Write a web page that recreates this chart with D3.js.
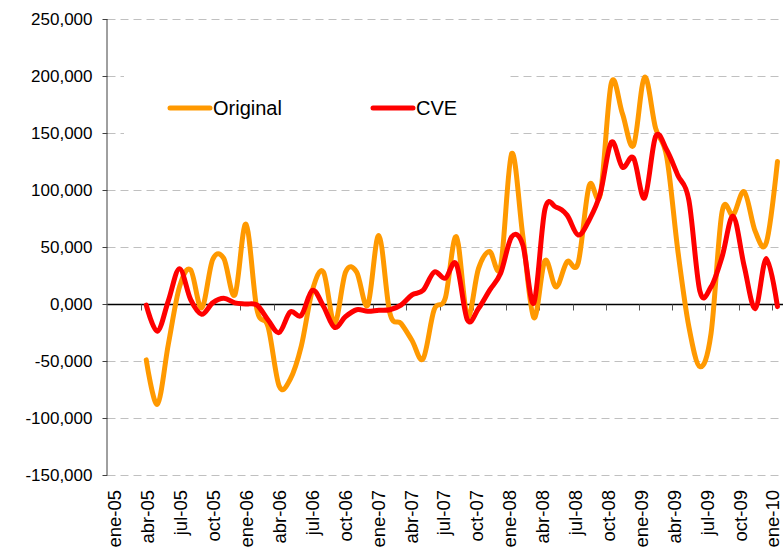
<!DOCTYPE html>
<html>
<head>
<meta charset="utf-8">
<script src="https://cdn.jsdelivr.net/npm/d3@7"></script>
<style>
  html, body { margin: 0; padding: 0; background: #fff; }
  svg { display: block; font-family: "Liberation Sans", Arial, sans-serif; }
</style>
</head>
<body>
<div id="chart"></div>
<script>
// monthly categories ene-05 .. ene-10
const months = ['ene', 'feb', 'mar', 'abr', 'may', 'jun', 'jul', 'ago', 'sep', 'oct', 'nov', 'dic'];
const categories = [];
for (let yr = 5; yr <= 10; yr++) {
    months.forEach(m => {
        if (yr < 10 || m === 'ene') categories.push(m + '-' + String(yr).padStart(2, '0'));
    });
}

// values (same units as the axis labels)
const original = [null, null, null,
    -49, -88, -35, 15, 30, -3.5, 39, 40, 8, 70,
    -5, -20, -72, -66, -37, 12, 28, -17, 28, 28, -1, 60,
    -8, -17, -32, -48, -5, 5, 59, -11, 31, 46, 33, 132,
    60, -12, 38, 15, 37, 36, 104, 96, 194, 167, 139, 199,
    154, 129, 47, -20, -55, -26, 81, 78, 98.5, 63.5, 54, 125];

const cve = [null, null, null,
    -1, -24, 3, 31, 4, -9, 1, 5, 1, 0,
    -1, -14, -25, -7, -10, 12, -2, -20.5, -11, -5, -6.4, -5.5,
    -5, -1, 8, 12, 28, 22.6, 35, -14, -4, 12, 27, 59,
    52, 1, 83, 85, 78, 60.5, 73.7, 97, 142, 120, 128, 93,
    147, 135, 113, 91, 11, 15, 41.5, 77, 33, -4, 40, -2.3];

const yTicks = [-150, -100, -50, 0, 50, 100, 150, 200, 250];
const labelEvery = 3;

const series = [
    { name: 'Original', values: original, color: '#FF9900' },
    { name: 'CVE', values: cve, color: '#FF0000' }
];

(() => {
const width = 784, height = 553;
const plotLeft = 107.5, plotRight = 783, plotTop = 19, plotBottom = 475;

const svg = d3.select('#chart').append('svg')
    .attr('width', width)
    .attr('height', height);

const x = d3.scaleBand().domain(categories).range([plotLeft, plotRight]).padding(0);
const y = d3.scaleLinear().domain([-150, 250]).range([plotBottom, plotTop]);

const labelCats = categories.filter((d, i) => i % labelEvery === 0);
// labels sit a touch tighter than the bands, like the original
const xLabel = d3.scalePoint().domain(labelCats).range([115, 773]);

const locale = d3.formatLocale({ decimal: ',', thousands: '.', grouping: [3], currency: ['', ''], minus: '-' });
const fmt = locale.format('.3f');

// gridlines
svg.append('g')
    .selectAll('line')
    .data(yTicks.filter(d => d !== 0))
    .enter()
    .append('line')
    .attr('x1', plotLeft)
    .attr('x2', plotRight)
    .attr('y1', d => Math.round(y(d)) + 0.5)
    .attr('y2', d => Math.round(y(d)) + 0.5)
    .attr('stroke', '#c0c0c0')
    .attr('stroke-width', 1)
    .attr('stroke-dasharray', '8,5');

// y axis
const yAxis = svg.append('g')
    .attr('transform', `translate(${plotLeft},0)`)
    .call(d3.axisLeft(y).tickValues(yTicks).tickSize(5).tickPadding(10).tickFormat(fmt));
yAxis.select('.domain').attr('stroke', '#404040').attr('d', `M-0.5,${plotTop}V${plotBottom}`);
yAxis.selectAll('.tick line').attr('stroke', '#404040');
yAxis.selectAll('.tick text')
    .attr('font-size', 17)
    .attr('fill', '#000')
    .attr('font-family', '"Liberation Sans", Arial, sans-serif');

// zero axis with ticks every 3 months
const zeroY = Math.round(y(0)) + 0.5;
const xAxis = svg.append('g').attr('transform', `translate(0,${zeroY})`);
xAxis.append('line')
    .attr('x1', plotLeft).attr('x2', plotRight)
    .attr('stroke', '#000').attr('stroke-width', 1.5);
xAxis.selectAll('line.tick')
    .data(categories.filter((d, i) => i > 0 && i % labelEvery === 0))
    .enter()
    .append('line')
    .attr('class', 'tick')
    .attr('x1', d => Math.round(x(d)) + 0.5)
    .attr('x2', d => Math.round(x(d)) + 0.5)
    .attr('y1', 0).attr('y2', 6)
    .attr('stroke', '#555');

// category labels
svg.append('g')
    .selectAll('text')
    .data(labelCats)
    .enter()
    .append('text')
    .attr('transform', d => `translate(${xLabel(d)},490) rotate(-90)`)
    .attr('text-anchor', 'end')
    .attr('dy', '0.35em')
    .attr('font-size', 18.5)
    .attr('fill', '#000')
    .text(d => d);

// lines
const line = d3.line()
    .defined(d => d.v !== null)
    .x(d => x(d.c) + x.bandwidth() / 2)
    .y(d => y(d.v))
    .curve(d3.curveCardinal.tension(0));

svg.append('g')
    .selectAll('path')
    .data(series)
    .enter()
    .append('path')
    .attr('d', s => line(s.values.map((v, i) => ({ c: categories[i], v }))))
    .attr('fill', 'none')
    .attr('stroke', s => s.color)
    .attr('stroke-width', 5)
    .attr('stroke-linejoin', 'round')
    .attr('stroke-linecap', 'round');

// legend
const legend = svg.append('g');
legend.append('rect')
    .attr('x', 124).attr('y', 58)
    .attr('width', 382).attr('height', 96)
    .attr('fill', '#fff');
const items = legend.selectAll('g')
    .data(series)
    .enter()
    .append('g')
    .attr('transform', (d, i) => `translate(${i === 0 ? 170 : 373},108)`);
items.append('line')
    .attr('x1', 0).attr('x2', 40)
    .attr('stroke', d => d.color)
    .attr('stroke-width', 5)
    .attr('stroke-linecap', 'round');
items.append('text')
    .attr('x', 43)
    .attr('dy', '0.35em')
    .attr('font-size', 20)
    .attr('fill', '#000')
    .text(d => d.name);
})();
</script>
</body>
</html>
